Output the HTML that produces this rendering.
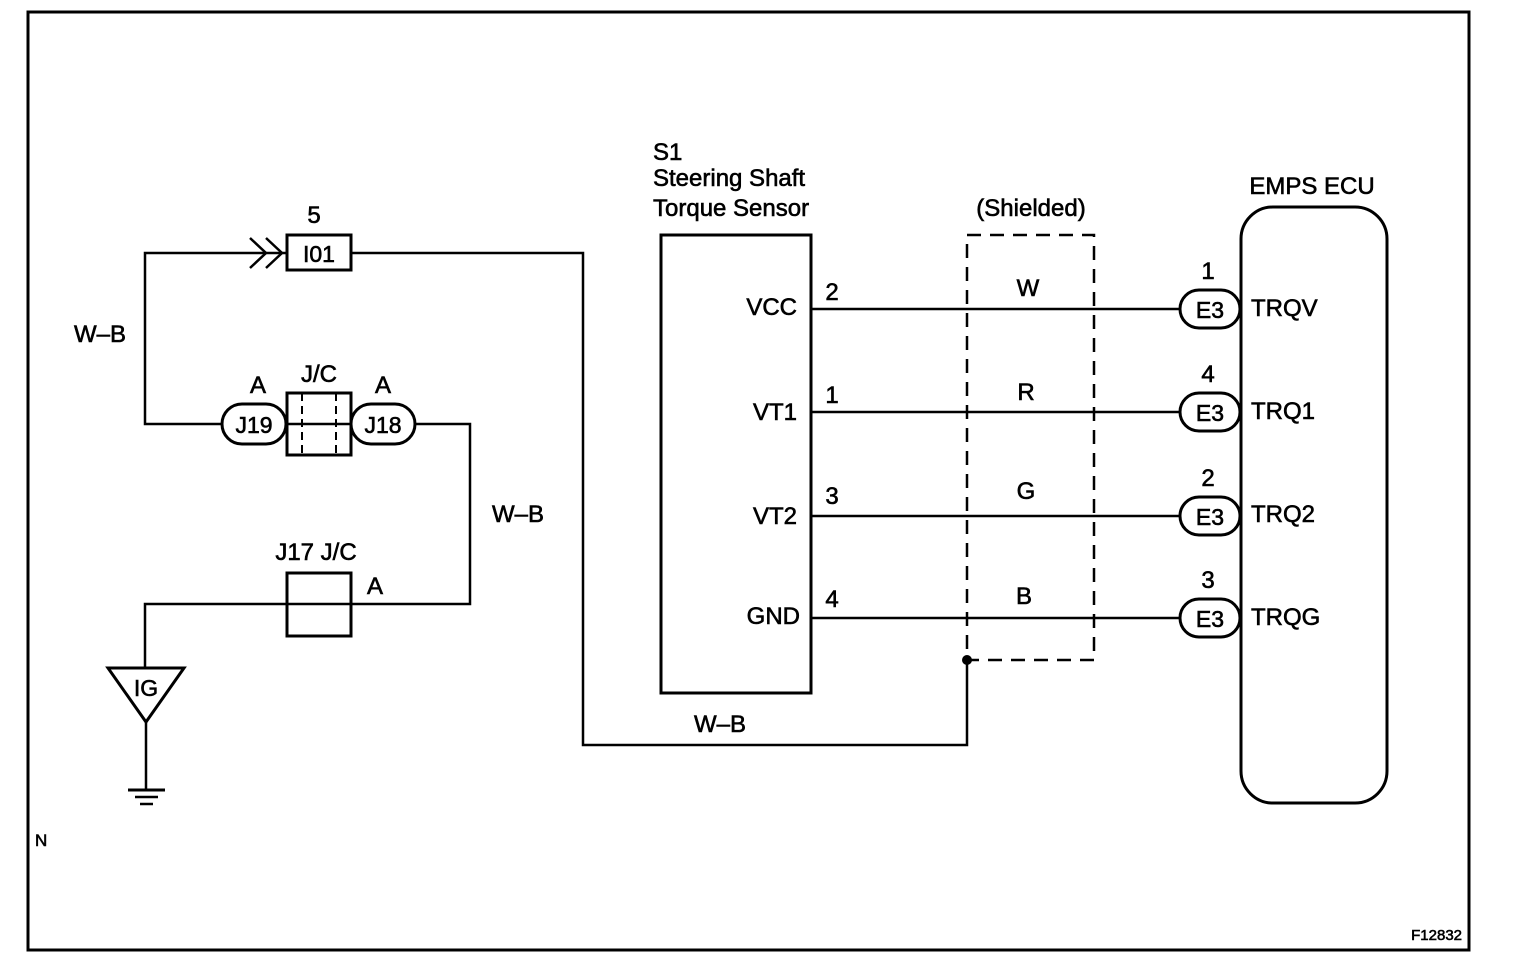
<!DOCTYPE html>
<html><head><meta charset="utf-8"><style>
html,body{margin:0;padding:0;background:#fff;}
svg{display:block;}
text{font-family:"Liberation Sans",Arial,sans-serif;fill:#000;stroke:#000;stroke-width:0.6;}
</style></head><body>
<svg width="1520" height="972" viewBox="0 0 1520 972" xmlns="http://www.w3.org/2000/svg">
<g fill="none" stroke="#000" stroke-width="2.5">
<rect x="28" y="12" width="1441" height="938" stroke-width="3"/>
<polyline points="286,253 145,253 145,424 222,424"/>
<polyline points="250,238 266,253 250,268"/>
<polyline points="266,238 282,253 266,268"/>
<rect x="287" y="235" width="64" height="35" stroke-width="3"/>
<polyline points="351,253 583,253 583,745 967,745 967,660"/>
<rect x="222" y="404" width="64" height="40" rx="20" stroke-width="3"/>
<rect x="287" y="393" width="64" height="62" stroke-width="3"/>
<line x1="302" y1="393" x2="302" y2="455" stroke-dasharray="8,5" stroke-width="2"/>
<line x1="336" y1="393" x2="336" y2="455" stroke-dasharray="8,5" stroke-width="2"/>
<line x1="287" y1="424" x2="351" y2="424"/>
<rect x="351" y="404" width="64" height="40" rx="20" stroke-width="3"/>
<polyline points="415,424 470,424 470,604 145,604 145,668"/>
<rect x="287" y="573" width="64" height="63" stroke-width="3"/>
<polygon points="108,668 184,668 146,722" stroke-width="3"/>
<line x1="146" y1="722" x2="146" y2="790"/>
<line x1="128" y1="790" x2="165" y2="790" stroke-width="3"/>
<line x1="135" y1="797" x2="158" y2="797"/>
<line x1="140" y1="804" x2="153" y2="804"/>
<rect x="661" y="235" width="150" height="458" stroke-width="3"/>
<rect x="967" y="235" width="127" height="425" stroke-dasharray="14,9" stroke-width="2.5"/>
<line x1="811" y1="309" x2="1180" y2="309"/>
<line x1="811" y1="412" x2="1180" y2="412"/>
<line x1="811" y1="516" x2="1180" y2="516"/>
<line x1="811" y1="618" x2="1180" y2="618"/>
<rect x="1180" y="290" width="60" height="38" rx="19" stroke-width="3"/>
<rect x="1180" y="393" width="60" height="38" rx="19" stroke-width="3"/>
<rect x="1180" y="497" width="60" height="38" rx="19" stroke-width="3"/>
<rect x="1180" y="599" width="60" height="38" rx="19" stroke-width="3"/>
<rect x="1241" y="207" width="146" height="596" rx="32" stroke-width="3"/>
</g>
<circle cx="967" cy="660" r="5" fill="#000"/>
<g font-size="24">
<text x="314" y="223" text-anchor="middle">5</text>
<text x="319" y="262" text-anchor="middle" font-size="23">I01</text>
<text x="100" y="342" text-anchor="middle">W–B</text>
<text x="258" y="393" text-anchor="middle">A</text>
<text x="319" y="382" text-anchor="middle">J/C</text>
<text x="383" y="393" text-anchor="middle">A</text>
<text x="254" y="433" text-anchor="middle" font-size="23">J19</text>
<text x="383" y="433" text-anchor="middle" font-size="23">J18</text>
<text x="518" y="522" text-anchor="middle">W–B</text>
<text x="316" y="560" text-anchor="middle">J17 J/C</text>
<text x="375" y="594" text-anchor="middle">A</text>
<text x="146" y="696" text-anchor="middle" font-size="23">IG</text>
<text x="35" y="846" font-size="17">N</text>
<text x="653" y="160">S1</text>
<text x="653" y="186">Steering Shaft</text>
<text x="653" y="216">Torque Sensor</text>
<text x="1031" y="216" text-anchor="middle">(Shielded)</text>
<text x="1312" y="194" text-anchor="middle">EMPS ECU</text>
<text x="797" y="315" text-anchor="end">VCC</text>
<text x="797" y="420" text-anchor="end">VT1</text>
<text x="797" y="524" text-anchor="end">VT2</text>
<text x="800" y="624" text-anchor="end">GND</text>
<text x="832" y="300" text-anchor="middle">2</text>
<text x="832" y="403" text-anchor="middle">1</text>
<text x="832" y="504" text-anchor="middle">3</text>
<text x="832" y="607" text-anchor="middle">4</text>
<text x="1028" y="296" text-anchor="middle">W</text>
<text x="1026" y="400" text-anchor="middle">R</text>
<text x="1026" y="499" text-anchor="middle">G</text>
<text x="1024" y="604" text-anchor="middle">B</text>
<text x="720" y="732" text-anchor="middle">W–B</text>
<text x="1208" y="279" text-anchor="middle">1</text>
<text x="1208" y="382" text-anchor="middle">4</text>
<text x="1208" y="486" text-anchor="middle">2</text>
<text x="1208" y="588" text-anchor="middle">3</text>
<text x="1210" y="318" text-anchor="middle" font-size="23">E3</text>
<text x="1210" y="421" text-anchor="middle" font-size="23">E3</text>
<text x="1210" y="525" text-anchor="middle" font-size="23">E3</text>
<text x="1210" y="627" text-anchor="middle" font-size="23">E3</text>
<text x="1251" y="316">TRQV</text>
<text x="1251" y="419">TRQ1</text>
<text x="1251" y="522">TRQ2</text>
<text x="1251" y="625">TRQG</text>
<text x="1462" y="940" text-anchor="end" font-size="15">F12832</text>
</g>
</svg>
</body></html>
